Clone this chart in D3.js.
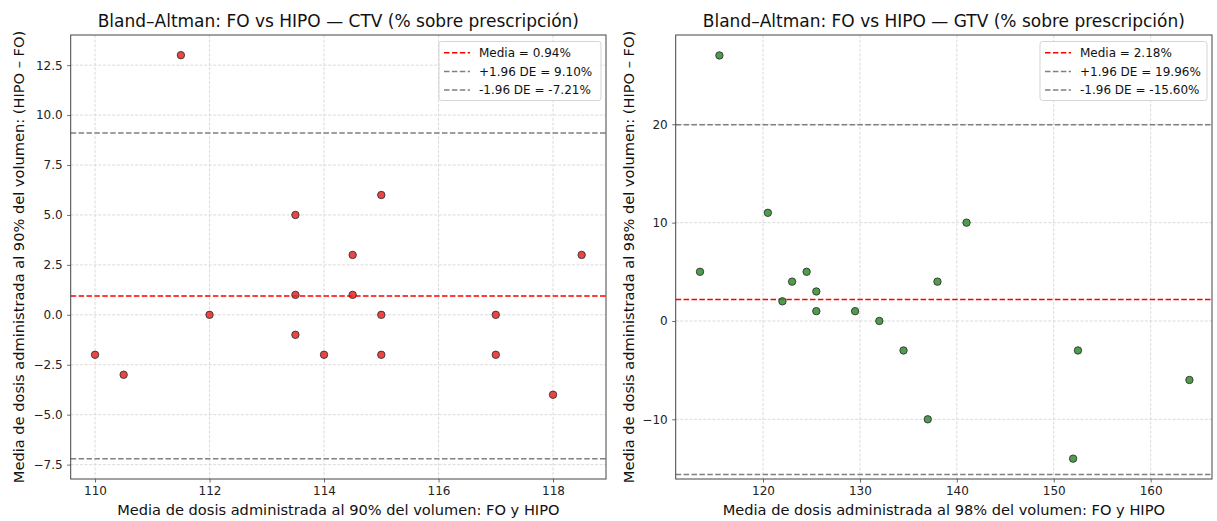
<!DOCTYPE html>
<html>
<head>
<meta charset="utf-8">
<script src="https://cdn.jsdelivr.net/npm/d3@7"></script>
<style>
  html, body { margin: 0; padding: 0; background: #fff; }
  svg { display: block; font-family: "DejaVu Sans", sans-serif; }
</style>
</head>
<body>
<svg id="chart" width="1217" height="521"></svg>
<script>
// ---------- DATA ----------
const ctvMeanDose = [110, 110.5, 111.5, 112, 113.5, 113.5, 113.5, 114, 114.5, 114.5, 115, 115, 115, 117, 117, 118, 118.5];
const ctvDiff     = [-2,  -3,    13,    0,   5,     1,     -1,    -2,  3,     1,     6,   0,   -2,  0,   -2,  -4,  3];
const ctvLines    = [0.94, 9.10, -7.21];
const ctvLabels   = ["Media = 0.94%", "+1.96 DE = 9.10%", "-1.96 DE = -7.21%"];
const ctvXTicks   = [110, 112, 114, 116, 118];
const ctvYTicks   = [-7.5, -5.0, -2.5, 0.0, 2.5, 5.0, 7.5, 10.0, 12.5];

const gtvMeanDose = [113.5, 115.5, 120.5, 122, 123, 124.5, 125.5, 125.5, 129.5, 132, 134.5, 137, 138, 141, 152, 152.5, 164];
const gtvDiff     = [5,     27,    11,    2,   4,   5,     3,     1,     1,     0,   -3,    -10, 4,   10,  -14, -3,    -6];
const gtvLines    = [2.18, 19.96, -15.60];
const gtvLabels   = ["Media = 2.18%", "+1.96 DE = 19.96%", "-1.96 DE = -15.60%"];
const gtvXTicks   = [120, 130, 140, 150, 160];
const gtvYTicks   = [-10, 0, 10, 20];

const titles = [
  "Bland–Altman: FO vs HIPO — CTV (% sobre prescripción)",
  "Bland–Altman: FO vs HIPO — GTV (% sobre prescripción)"
];
const xLabels = [
  "Media de dosis administrada al 90% del volumen: FO y HIPO",
  "Media de dosis administrada al 98% del volumen: FO y HIPO"
];
const yLabels = [
  "Media de dosis administrada al 90% del volumen: (HIPO – FO)",
  "Media de dosis administrada al 98% del volumen: (HIPO – FO)"
];

// ---------- DRAW ----------
const svg = d3.select("#chart");
const minus = s => s.replace("-", "\u2212");

const panels = [
  { x0: 70.7, x1: 606, y0: 35, y1: 479,
    xDom: [109.575, 118.925], yDom: [-8.22, 14.01],
    xs: ctvMeanDose, ys: ctvDiff, lines: ctvLines, labels: ctvLabels,
    xTicks: ctvXTicks, yTicks: ctvYTicks, yFmt: d3.format(".1f"),
    fill: "rgba(232,36,36,0.85)", title: titles[0], xLabel: xLabels[0], yLabel: yLabels[0],
    yLabelX: 24, legendX: 439, legendW: 162 },
  { x0: 675.7, x1: 1212, y0: 35, y1: 479,
    xDom: [110.99, 166.33], yDom: [-16.07, 29.08],
    xs: gtvMeanDose, ys: gtvDiff, lines: gtvLines, labels: gtvLabels,
    xTicks: gtvXTicks, yTicks: gtvYTicks, yFmt: d3.format("d"),
    fill: "rgba(46,140,46,0.85)", title: titles[1], xLabel: xLabels[1], yLabel: yLabels[1],
    yLabelX: 634, legendX: 1040, legendW: 167 }
];

const lineColors = ["#ff0000", "#808080", "#808080"];

panels.forEach((p, pi) => {
  const x = d3.scaleLinear().domain(p.xDom).range([p.x0, p.x1]);
  const y = d3.scaleLinear().domain(p.yDom).range([p.y1, p.y0]);
  const g = svg.append("g");
  const clipId = "clip" + pi;
  svg.append("clipPath").attr("id", clipId).append("rect")
    .attr("x", p.x0).attr("y", p.y0).attr("width", p.x1 - p.x0).attr("height", p.y1 - p.y0);

  // grid
  const grid = g.append("g").attr("clip-path", `url(#${clipId})`);
  grid.selectAll(".gx").data(p.xTicks).join("line")
    .attr("x1", d => x(d)).attr("x2", d => x(d)).attr("y1", p.y0).attr("y2", p.y1)
    .attr("stroke", "#d2d2d2").attr("stroke-width", 0.8).attr("stroke-dasharray", "3,1.6");
  grid.selectAll(".gy").data(p.yTicks).join("line")
    .attr("y1", d => y(d)).attr("y2", d => y(d)).attr("x1", p.x0).attr("x2", p.x1)
    .attr("stroke", "#d2d2d2").attr("stroke-width", 0.8).attr("stroke-dasharray", "3,1.6");

  // reference lines
  grid.selectAll(".ref").data(p.lines).join("line")
    .attr("x1", p.x0).attr("x2", p.x1)
    .attr("y1", d => y(d)).attr("y2", d => y(d))
    .attr("stroke", (d, i) => lineColors[i]).attr("stroke-width", 1.5)
    .attr("stroke-dasharray", "5.5,2.4");

  // points
  g.append("g").attr("clip-path", `url(#${clipId})`)
    .selectAll("circle").data(p.xs.map((v, i) => [v, p.ys[i]])).join("circle")
    .attr("cx", d => x(d[0])).attr("cy", d => y(d[1])).attr("r", 3.7)
    .attr("fill", p.fill).attr("stroke", "#333").attr("stroke-width", 0.9);

  // axes
  const xAxis = d3.axisBottom(x).tickValues(p.xTicks).tickSize(3.5).tickPadding(3.5).tickFormat(d3.format("d"));
  const yAxis = d3.axisLeft(y).tickValues(p.yTicks).tickSize(3.5).tickPadding(4.5).tickFormat(d => minus(p.yFmt(d)));
  const gx = g.append("g").attr("transform", `translate(0,${p.y1})`).call(xAxis);
  const gy = g.append("g").attr("transform", `translate(${p.x0},0)`).call(yAxis);
  [gx, gy].forEach(a => {
    a.select(".domain").remove();
    a.selectAll(".tick line").attr("stroke", "#444").attr("stroke-width", 0.8);
    a.selectAll(".tick text").attr("fill", "#222").style("font-size", "12px")
      .style("font-family", "'DejaVu Sans', sans-serif");
  });

  // frame
  g.append("rect").attr("x", p.x0).attr("y", p.y0).attr("width", p.x1 - p.x0).attr("height", p.y1 - p.y0)
    .attr("fill", "none").attr("stroke", "#444").attr("stroke-width", 1);

  // title
  g.append("text").attr("x", (p.x0 + p.x1) / 2).attr("y", 27).attr("text-anchor", "middle")
    .style("font-size", "17px").attr("fill", "#111").text(p.title);
  // x label
  g.append("text").attr("x", (p.x0 + p.x1) / 2).attr("y", 515).attr("text-anchor", "middle")
    .style("font-size", "14.6px").attr("fill", "#111").text(p.xLabel);
  // y label
  g.append("text").attr("transform", `translate(${p.yLabelX},${(p.y0 + p.y1) / 2}) rotate(-90)`)
    .attr("text-anchor", "middle").style("font-size", "14.6px").attr("fill", "#111").text(p.yLabel);

  // legend
  const lg = g.append("g");
  lg.append("rect").attr("x", p.legendX).attr("y", 41.5).attr("width", p.legendW).attr("height", 59)
    .attr("rx", 2.5).attr("fill", "rgba(255,255,255,0.85)").attr("stroke", "#d0d0d0").attr("stroke-width", 0.9);
  p.labels.forEach((lab, i) => {
    const ry = 52.7 + i * 18.7;
    lg.append("line").attr("x1", p.legendX + 5).attr("x2", p.legendX + 31)
      .attr("y1", ry).attr("y2", ry).attr("stroke", lineColors[i]).attr("stroke-width", 1.5)
      .attr("stroke-dasharray", "5.5,2.4");
    lg.append("text").attr("x", p.legendX + 40).attr("y", ry + 4.3)
      .style("font-size", "12px").attr("fill", "#111").text(lab);
  });
});
</script>
</body>
</html>
